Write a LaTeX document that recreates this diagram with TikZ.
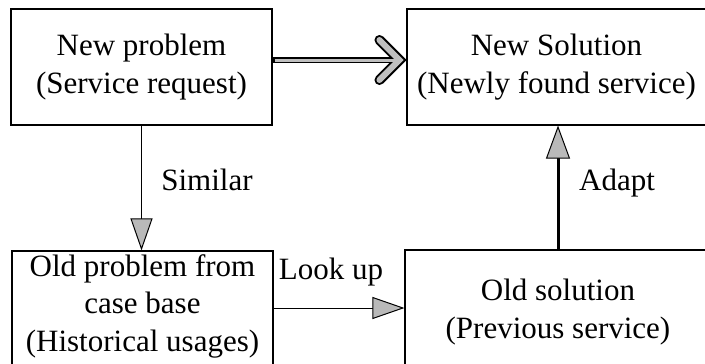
\documentclass[tikz,border=0pt]{standalone}
\usepackage{fontspec}
\setmainfont{Liberation Serif}
\usetikzlibrary{arrows.meta,calc}
\begin{document}
\begin{tikzpicture}[x=1pt,y=-1pt,
  box/.style={draw, line width=1.1pt, rectangle, inner sep=0pt},
  txt/.style={align=center, font=\fontsize{31}{37.5}\selectfont, inner sep=0pt},
  lbl/.style={font=\fontsize{31}{37.5}\selectfont, inner sep=0pt},
  thinline/.style={line width=1pt},
  tri/.style={-{Triangle[length=32pt,width=22pt,fill=gray!55,line width=1pt]}},
  shaftfill/.style={gray!50}
]
\useasboundingbox (0,0) rectangle (705,364);
\clip (0,0) rectangle (705,364);

% the four boxes
\node[box, txt, minimum width=261, minimum height=116] (np) at (141.5,67)
  {New problem\\(Service request)};
\node[box, txt, minimum width=299, minimum height=116] (ns) at (556.5,67)
  {New Solution\\(Newly found service)};
\node[box, minimum width=261, minimum height=130] (op) at (142.5,316) {};
\node[txt] (optext) at (142.5,306) {Old problem from\\case base\\(Historical usages)};
\node[box, minimum width=306, minimum height=130] (os) at (558,315) {};
\node[txt] (ostext) at (558,312) {Old solution\\(Previous service)};

% broad arrow from the new problem to the new solution
\coordinate (tip) at ([yshift=7pt]ns.west);
\coordinate (vtx) at ($(tip)+(-7,0)$);
\draw[line width=6pt] ([yshift=7pt]np.east) -- (vtx);
\draw[line width=10pt, line cap=round, line join=miter]
  ($(vtx)+(-20,-20)$) -- (vtx) -- ($(vtx)+(-20,20)$);
\draw[line width=3pt, shaftfill] ([yshift=7pt,xshift=2pt]np.east) -- (vtx);
\draw[line width=6pt, shaftfill, line cap=round, line join=miter]
  ($(vtx)+(-20,-20)$) -- (vtx) -- ($(vtx)+(-20,20)$);

% similar, look up, adapt
\draw[thinline, tri] (np.south) -- (np.south |- op.north);
\draw[thinline, tri] ([yshift=8pt]op.east) -- ([yshift=8pt]op.east -| os.west);
\draw[line width=3pt, -{Triangle[length=33pt,width=24pt,fill=gray!55,line width=1pt]}]
  (os.north) -- (os.north |- ns.south);

\node[lbl] (lsim) at (207,180) {Similar};
\node[lbl] (lad) at (617,183) {Adapt};
\node[lbl] (llook) at (331,272) {Look up};
\end{tikzpicture}
\end{document}
